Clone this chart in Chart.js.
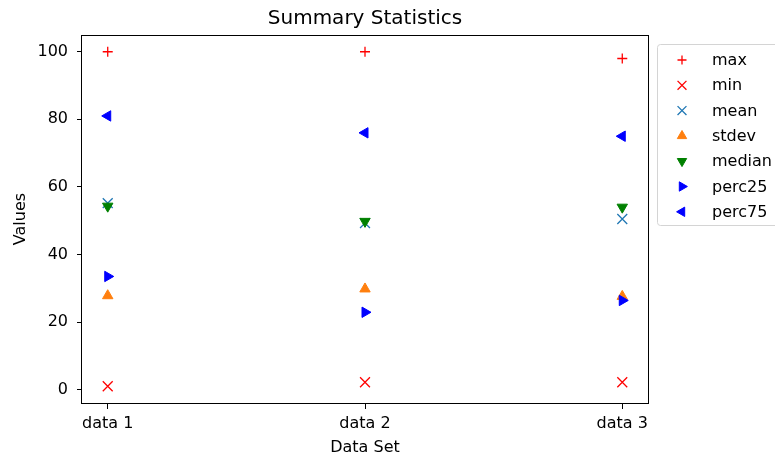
<!DOCTYPE html>
<html>
<head>
<meta charset="utf-8">
<title>Summary Statistics</title>
<script src="https://cdn.jsdelivr.net/npm/chart.js@4/dist/chart.umd.min.js"></script>
<style>
  html, body { margin: 0; padding: 0; background: #fff; overflow: hidden; }
  canvas { display: block; }
</style>
</head>
<body>
<canvas id="statsChart" width="775" height="460"></canvas>
<script>
const categories = ["data 1", "data 2", "data 3"];
const maxValues = [100, 100, 98];
const minValues = [1, 2.2, 2.2];
const meanValues = [55.2, 49.3, 50.5];
const stdevValues = [27.8, 29.8, 27.6];
const medianValues = [54.3, 49.8, 54.0];
const perc25Values = [33.5, 22.9, 26.4];
const perc75Values = [81.0, 76.0, 75.0];
const yTicks = [0, 20, 40, 60, 80, 100];

const textFont = { family: "'DejaVu Sans', sans-serif", size: 16 };

Chart.defaults.font.family = textFont.family;
Chart.defaults.color = "#000";

// one point per data set, x = category index
function toPoints(values) {
  return values.map((v, i) => ({ x: i, y: v }));
}

function series(label, values, style, order) {
  return Object.assign({
    label: label,
    data: toPoints(values),
    order: order,
    pointHoverRadius: style.pointRadius
  }, style);
}

const datasets = [
  series("max", maxValues, { pointStyle: "cross", pointRadius: 5, borderColor: "#ff0000", backgroundColor: "#ff0000", borderWidth: 1.3 }, 6),
  series("min", minValues, { pointStyle: "crossRot", pointRadius: 7, borderColor: "#ff0000", backgroundColor: "#ff0000", borderWidth: 1.3 }, 5),
  series("mean", meanValues, { pointStyle: "crossRot", pointRadius: 7, borderColor: "#1f77b4", backgroundColor: "#1f77b4", borderWidth: 1.3 }, 4),
  series("stdev", stdevValues, { pointStyle: "triangle", pointRotation: 0, pointRadius: 6, borderColor: "#ff7f0e", backgroundColor: "#ff7f0e", borderWidth: 1 }, 3),
  series("median", medianValues, { pointStyle: "triangle", pointRotation: 180, pointRadius: 6, borderColor: "#008000", backgroundColor: "#008000", borderWidth: 1 }, 2),
  series("perc25", perc25Values, { pointStyle: "triangle", pointRotation: 90, pointRadius: 6, borderColor: "#0000ff", backgroundColor: "#0000ff", borderWidth: 1 }, 1),
  series("perc75", perc75Values, { pointStyle: "triangle", pointRotation: 270, pointRadius: 6, borderColor: "#0000ff", backgroundColor: "#0000ff", borderWidth: 1 }, 0)
];

// full box round the plot, like the matplotlib spines
const frame = {
  id: "frame",
  afterDatasetsDraw(chart) {
    const { ctx, chartArea: a } = chart;
    ctx.save();
    ctx.strokeStyle = "#000";
    ctx.lineWidth = 1;
    ctx.strokeRect(Math.round(a.left) - 0.5, Math.round(a.top) + 0.5,
      Math.round(a.right - a.left) + 1, Math.round(a.bottom - a.top));
    ctx.restore();
  }
};

// legend outside the axes, upper left corner at the right of the plot
const outsideLegend = {
  id: "outsideLegend",
  afterDraw(chart) {
    const { ctx, chartArea: a } = chart;
    const left = Math.round(a.right) + 9;
    const top = Math.round(a.top) + 9;
    ctx.save();
    ctx.fillStyle = "rgba(255,255,255,0.8)";
    ctx.strokeStyle = "#d4d4d4";
    ctx.lineWidth = 1;
    ctx.beginPath();
    ctx.roundRect(left + 0.5, top + 0.5, 150, 181, 3);
    ctx.fill();
    ctx.stroke();
    ctx.textBaseline = "middle";
    ctx.font = textFont.size + "px " + textFont.family;
    chart.data.datasets.forEach((ds, i) => {
      const y = top + 16 + i * 25.3;
      ctx.fillStyle = ds.backgroundColor;
      ctx.strokeStyle = ds.borderColor;
      ctx.lineWidth = ds.borderWidth;
      Chart.helpers.drawPoint(ctx, {
        pointStyle: ds.pointStyle,
        rotation: ds.pointRotation || 0,
        radius: ds.pointRadius * 0.9,
        borderWidth: ds.borderWidth
      }, left + 25, y);
      ctx.fillStyle = "#000";
      ctx.fillText(ds.label, left + 55, y + 1);
    });
    ctx.restore();
  }
};

new Chart("statsChart", {
  type: "scatter",
  data: { datasets: datasets },
  plugins: [frame, outsideLegend],
  options: {
    responsive: false,
    animation: false,
    events: [],
    layout: { padding: { right: 127 } },
    plugins: {
      legend: { display: false },
      tooltip: { enabled: false },
      title: {
        display: true,
        text: "Summary Statistics",
        fullSize: false,
        color: "#000",
        font: { family: textFont.family, size: 20, weight: "normal" },
        padding: { top: 7, bottom: 4 }
      }
    },
    scales: {
      x: {
        type: "linear",
        min: -0.1,
        max: 2.1,
        afterBuildTicks: (scale) => {
          scale.ticks = categories.map((c, i) => ({ value: i }));
        },
        afterFit: (scale) => {
          scale.height = 57;
          scale.paddingLeft = 0;
          scale.paddingRight = 0;
        },
        ticks: {
          callback: (v) => categories[v],
          font: textFont,
          color: "#000",
          padding: 5,
          maxRotation: 0
        },
        grid: { drawOnChartArea: false, tickLength: 6, color: "#000", lineWidth: 1 },
        border: { display: false },
        title: { display: true, text: "Data Set", font: textFont, color: "#000", padding: { top: 4, bottom: 3 } }
      },
      y: {
        min: -3.95,
        max: 104.95,
        afterBuildTicks: (scale) => {
          scale.ticks = yTicks.map((v) => ({ value: v }));
        },
        afterFit: (scale) => {
          scale.width = 82;
        },
        ticks: { font: textFont, color: "#000", padding: 9 },
        grid: { drawOnChartArea: false, tickLength: 5, color: "#000", lineWidth: 1 },
        border: { display: false },
        title: { display: true, text: "Values", font: textFont, color: "#000", padding: { top: 11, bottom: 0 } }
      }
    }
  }
});
</script>
</body>
</html>
